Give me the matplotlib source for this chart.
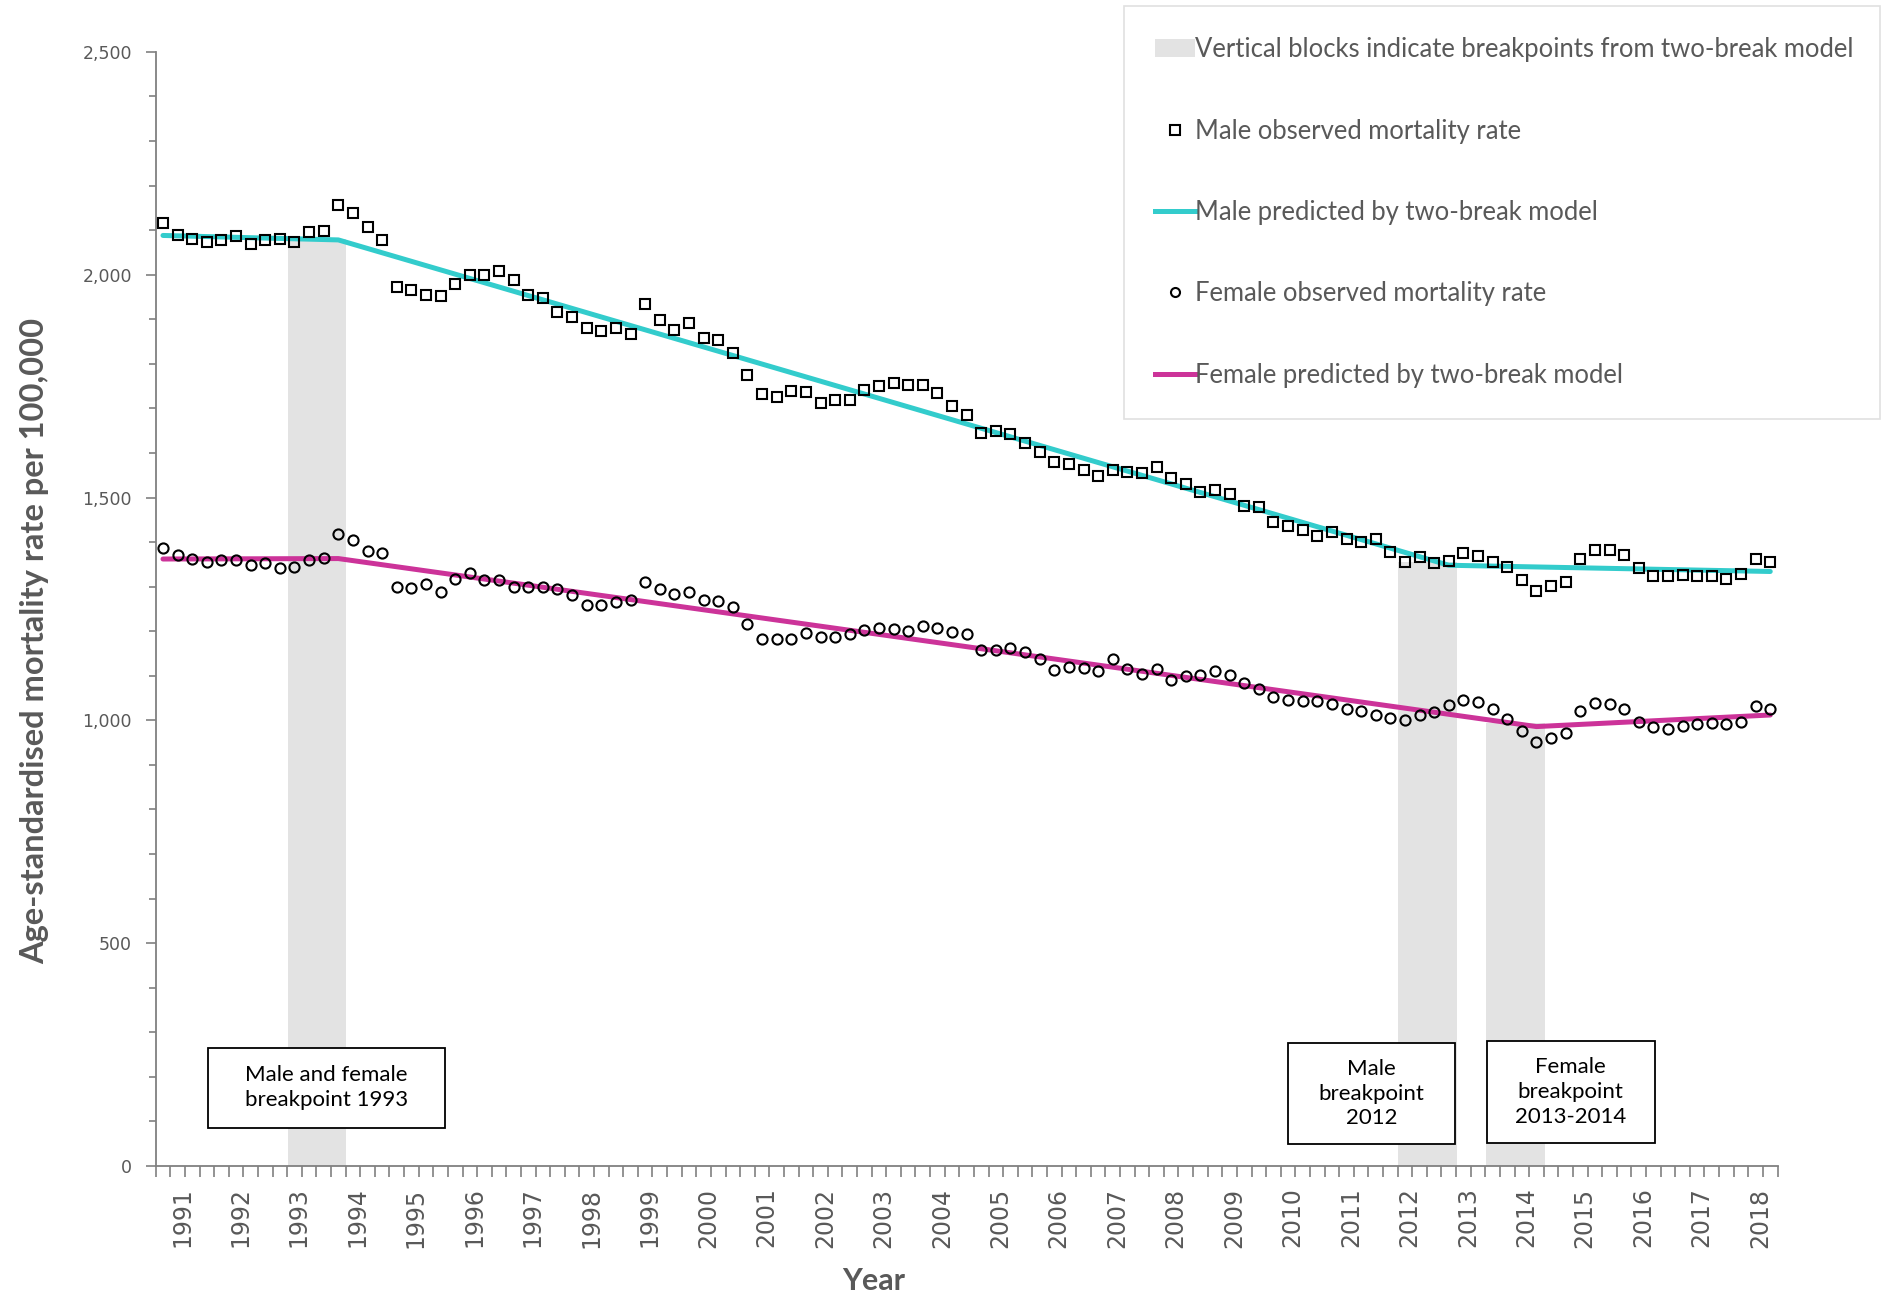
import matplotlib
matplotlib.use("Agg")
import matplotlib.pyplot as plt
from matplotlib.patches import Patch, Rectangle
from matplotlib.lines import Line2D
from matplotlib.ticker import FixedLocator, MultipleLocator, FuncFormatter

#########################
# DATA (quarterly, 1991 Q1 onwards)
#########################

YEARS = list(range(1991, 2019))

MALE_OBS = [
    2115, 2089, 2080, 2074, 2077, 2086, 2069, 2077, 2080, 2073,
    2096, 2098, 2156, 2139, 2107, 2077, 1973, 1966, 1955, 1952,
    1979, 2000, 2000, 2009, 1988, 1955, 1947, 1917, 1905, 1880,
    1874, 1880, 1867, 1934, 1899, 1876, 1892, 1859, 1853, 1825,
    1776, 1732, 1726, 1739, 1737, 1711, 1719, 1719, 1741, 1750,
    1757, 1752, 1752, 1735, 1705, 1686, 1645, 1650, 1643, 1623,
    1601, 1580, 1575, 1562, 1549, 1562, 1558, 1555, 1568, 1544,
    1530, 1513, 1517, 1508, 1482, 1478, 1444, 1436, 1427, 1414,
    1423, 1408, 1401, 1407, 1378, 1356, 1367, 1353, 1357, 1376,
    1369, 1355, 1345, 1314, 1291, 1302, 1311, 1362, 1383, 1383,
    1371, 1341, 1324, 1323, 1326, 1324, 1324, 1317, 1328, 1362,
    1355,
]

FEMALE_OBS = [
    1386, 1371, 1362, 1356, 1359, 1359, 1349, 1353, 1341, 1345,
    1360, 1364, 1418, 1405, 1380, 1375, 1300, 1297, 1306, 1289,
    1317, 1330, 1315, 1314, 1299, 1299, 1300, 1294, 1282, 1259,
    1258, 1265, 1269, 1311, 1294, 1284, 1289, 1270, 1267, 1255,
    1217, 1183, 1183, 1183, 1195, 1186, 1187, 1193, 1203, 1208,
    1206, 1200, 1212, 1208, 1198, 1193, 1157, 1157, 1162, 1153,
    1137, 1113, 1119, 1117, 1111, 1138, 1115, 1105, 1115, 1091,
    1100, 1102, 1110, 1102, 1083, 1071, 1053, 1046, 1044, 1044,
    1036, 1025, 1022, 1012, 1005, 1001, 1012, 1018, 1034, 1046,
    1042, 1026, 1003, 975, 951, 961, 971, 1021, 1039, 1037,
    1025, 997, 984, 980, 988, 992, 994, 991, 997, 1033,
    1025,
]

# two-break model: value at the quarter index of each segment end
MALE_PRED_Q = [0, 12, 88, 110]
MALE_PRED = [2088, 2078, 1348, 1334]
FEMALE_PRED_Q = [0, 12, 94, 110]
FEMALE_PRED = [1362, 1363, 986, 1012]

# breakpoint blocks: first quarter index, number of quarters, height
BLOCK_START = [9, 85, 91]
BLOCK_LEN = [4, 4, 4]
BLOCK_TOP = [2080, 1355, 995]

BOX_TEXT = ["Male and female\nbreakpoint 1993", "Male\nbreakpoint\n2012",
            "Female\nbreakpoint\n2013-2014"]

#########################
# STYLE
#########################

CYAN = "#33CCCC"
MAGENTA = "#CC3399"
BLOCK_GREY = "#E3E3E3"
TEXT_GREY = "#595959"
AXIS_GREY = "#808080"
SANS = ["Lato", "DejaVu Sans"]

plt.rcParams["font.family"] = ["DejaVu Sans"]

fig = plt.figure(figsize=(18.87, 12.96), dpi=100)
ax = fig.add_axes([0.0825, 0.1003, 0.8595, 0.8597])

n = len(MALE_OBS)
q = list(range(n))

# vertical blocks
for s, w, h in zip(BLOCK_START, BLOCK_LEN, BLOCK_TOP):
    ax.bar(s - 0.45, h, width=w, align="edge", color=BLOCK_GREY, zorder=1)

ax.plot(MALE_PRED_Q, MALE_PRED, color=CYAN, lw=3.6, zorder=2, solid_capstyle="round")
ax.plot(FEMALE_PRED_Q, FEMALE_PRED, color=MAGENTA, lw=3.6, zorder=2, solid_capstyle="round")
ax.plot(q, MALE_OBS, ls="none", marker="s", ms=7.3, mfc="none", mec="black", mew=1.5, zorder=3)
ax.plot(q, FEMALE_OBS, ls="none", marker="o", ms=7.3, mfc="none", mec="black", mew=1.5, zorder=3)

# annotation boxes (x in quarters, y in data units)
BOX_POS = [(3.1, 86, 16.2, 179), (77.0, 49, 11.4, 227), (90.6, 52, 11.5, 229)]
for (x0, y0, w, h), txt in zip(BOX_POS, BOX_TEXT):
    ax.add_patch(Rectangle((x0, y0), w, h, facecolor="white", edgecolor="black",
                           lw=1.3, zorder=4))
    ax.text(x0 + w / 2, y0 + h / 2, txt, ha="center", va="center", fontsize=16,
            family=SANS, color="black", linespacing=1.3, zorder=5)

#########################
# AXES
#########################

ax.set_xlim(-0.5, n - 0.5)
ax.set_ylim(0, 2500)

for side in ["top", "right"]:
    ax.spines[side].set_visible(False)
for side in ["left", "bottom"]:
    ax.spines[side].set_color(AXIS_GREY)
    ax.spines[side].set_linewidth(1.3)

ax.yaxis.set_major_locator(MultipleLocator(500))
ax.yaxis.set_minor_locator(MultipleLocator(100))
ax.yaxis.set_major_formatter(FuncFormatter(lambda v, p: f"{int(v):,}"))
ax.tick_params(axis="y", which="major", length=7, width=1.2, color=AXIS_GREY,
               labelsize=12.5, labelcolor=TEXT_GREY, pad=10)
ax.tick_params(axis="y", which="minor", length=5, width=1.2, color=AXIS_GREY)

ax.xaxis.set_major_locator(FixedLocator([4 * k + 1.3 for k in range(len(YEARS))]))
ax.set_xticklabels([str(y) for y in YEARS], rotation=90)
ax.xaxis.set_minor_locator(FixedLocator([i - 0.5 for i in range(n + 1)]))
ax.tick_params(axis="x", which="major", length=0, labelsize=17, labelcolor=TEXT_GREY, pad=15.5)
ax.tick_params(axis="x", which="minor", length=8, width=1.2, color=AXIS_GREY)

ax.set_ylabel("Age-standardised mortality rate per 100,000", fontsize=23.5, fontweight="bold",
              color=TEXT_GREY, family=SANS)
ax.yaxis.set_label_coords(-0.0655, 0.471)
ax.set_xlabel("Year", fontsize=22, fontweight="bold", color=TEXT_GREY, family=SANS)
ax.xaxis.set_label_coords(0.4426, -0.091)

#########################
# LEGEND
#########################

handles = [
    Patch(facecolor=BLOCK_GREY, edgecolor="none"),
    Line2D([], [], ls="none", marker="s", ms=6.5, mfc="none", mec="black", mew=1.5),
    Line2D([], [], color=CYAN, lw=3.6),
    Line2D([], [], ls="none", marker="o", ms=6.5, mfc="none", mec="black", mew=1.5),
    Line2D([], [], color=MAGENTA, lw=3.6),
]
labels = [
    "Vertical blocks indicate breakpoints from two-break model",
    "Male observed mortality rate",
    "Male predicted by two-break model",
    "Female observed mortality rate",
    "Female predicted by two-break model",
]
leg = fig.legend(handles, labels, loc="upper left",
                 bbox_to_anchor=(1124 / 1887, 1 - 6 / 1296, 756 / 1887, 0.0),
                 mode="expand", frameon=True, fancybox=False, edgecolor="#D9D9D9",
                 labelspacing=2.2, handlelength=1.55, handletextpad=0.0,
                 borderpad=1.22, borderaxespad=0, prop={"family": SANS, "size": 18.45})
leg.get_frame().set_linewidth(1.2)
for t in leg.get_texts():
    t.set_color(TEXT_GREY)

fig.savefig("out.png", dpi=100)
plt.close(fig)
